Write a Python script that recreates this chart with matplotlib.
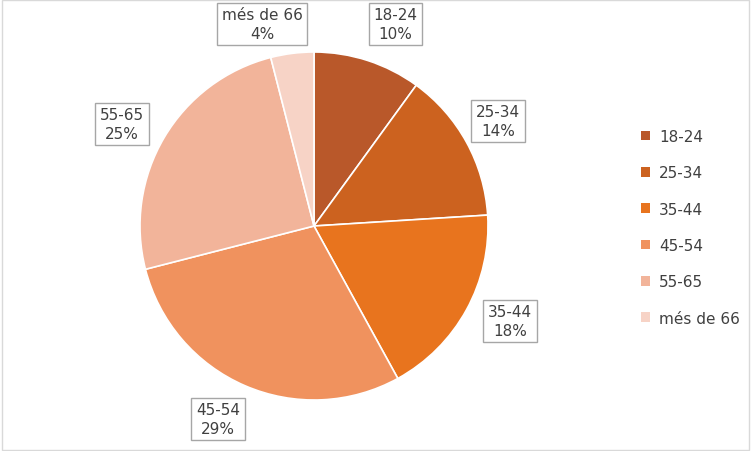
import matplotlib
matplotlib.use("Agg")
import matplotlib.pyplot as plt
from matplotlib.patches import Patch

categories = ["18-24", "25-34", "35-44", "45-54", "55-65", "més de 66"]
values = [10, 14, 18, 29, 25, 4]
colors = ["#B9582A", "#CC621F", "#E8741E", "#F0925E", "#F2B49A", "#F7D3C6"]
label_pos = [(0.466, 1.161), (1.057, 0.603), (1.126, -0.546),
             (-0.552, -1.109), (-1.103, 0.586), (-0.299, 1.161)]

fig = plt.figure(figsize=(7.51, 4.52), dpi=100)
fig.patch.set_facecolor("white")
ax = fig.add_axes([140/751, 51/452, 348/751, 348/452])
wedges, _ = ax.pie(values, colors=colors, startangle=90, counterclock=False,
                   wedgeprops=dict(edgecolor="white", linewidth=1.2))
for c, v, (x, y) in zip(categories, values, label_pos):
    ax.text(x, y, f"{c}\n{v}%", fontsize=11, color="#404040", ha="center", va="center",
            linespacing=1.3, clip_on=False,
            bbox=dict(boxstyle="square,pad=0.3", fc="white", ec="#A6A6A6", lw=1))
ax.set_xlim(-1, 1); ax.set_ylim(-1, 1)
ax.set_aspect("equal")

handles = [Patch(facecolor=c, edgecolor="none") for c in colors]
fig.legend(handles, categories, loc="center left", bbox_to_anchor=(0.835, 0.495),
           frameon=False, fontsize=11, labelcolor="#404040", handlelength=0.6,
           handleheight=0.6, labelspacing=1.4, handletextpad=0.6)
border = plt.Rectangle((0.002, 0.002), 0.996, 0.996, transform=fig.transFigure,
                       fill=False, ec="#D9D9D9", lw=1)
fig.add_artist(border)
fig.savefig("out.png", dpi=100)
